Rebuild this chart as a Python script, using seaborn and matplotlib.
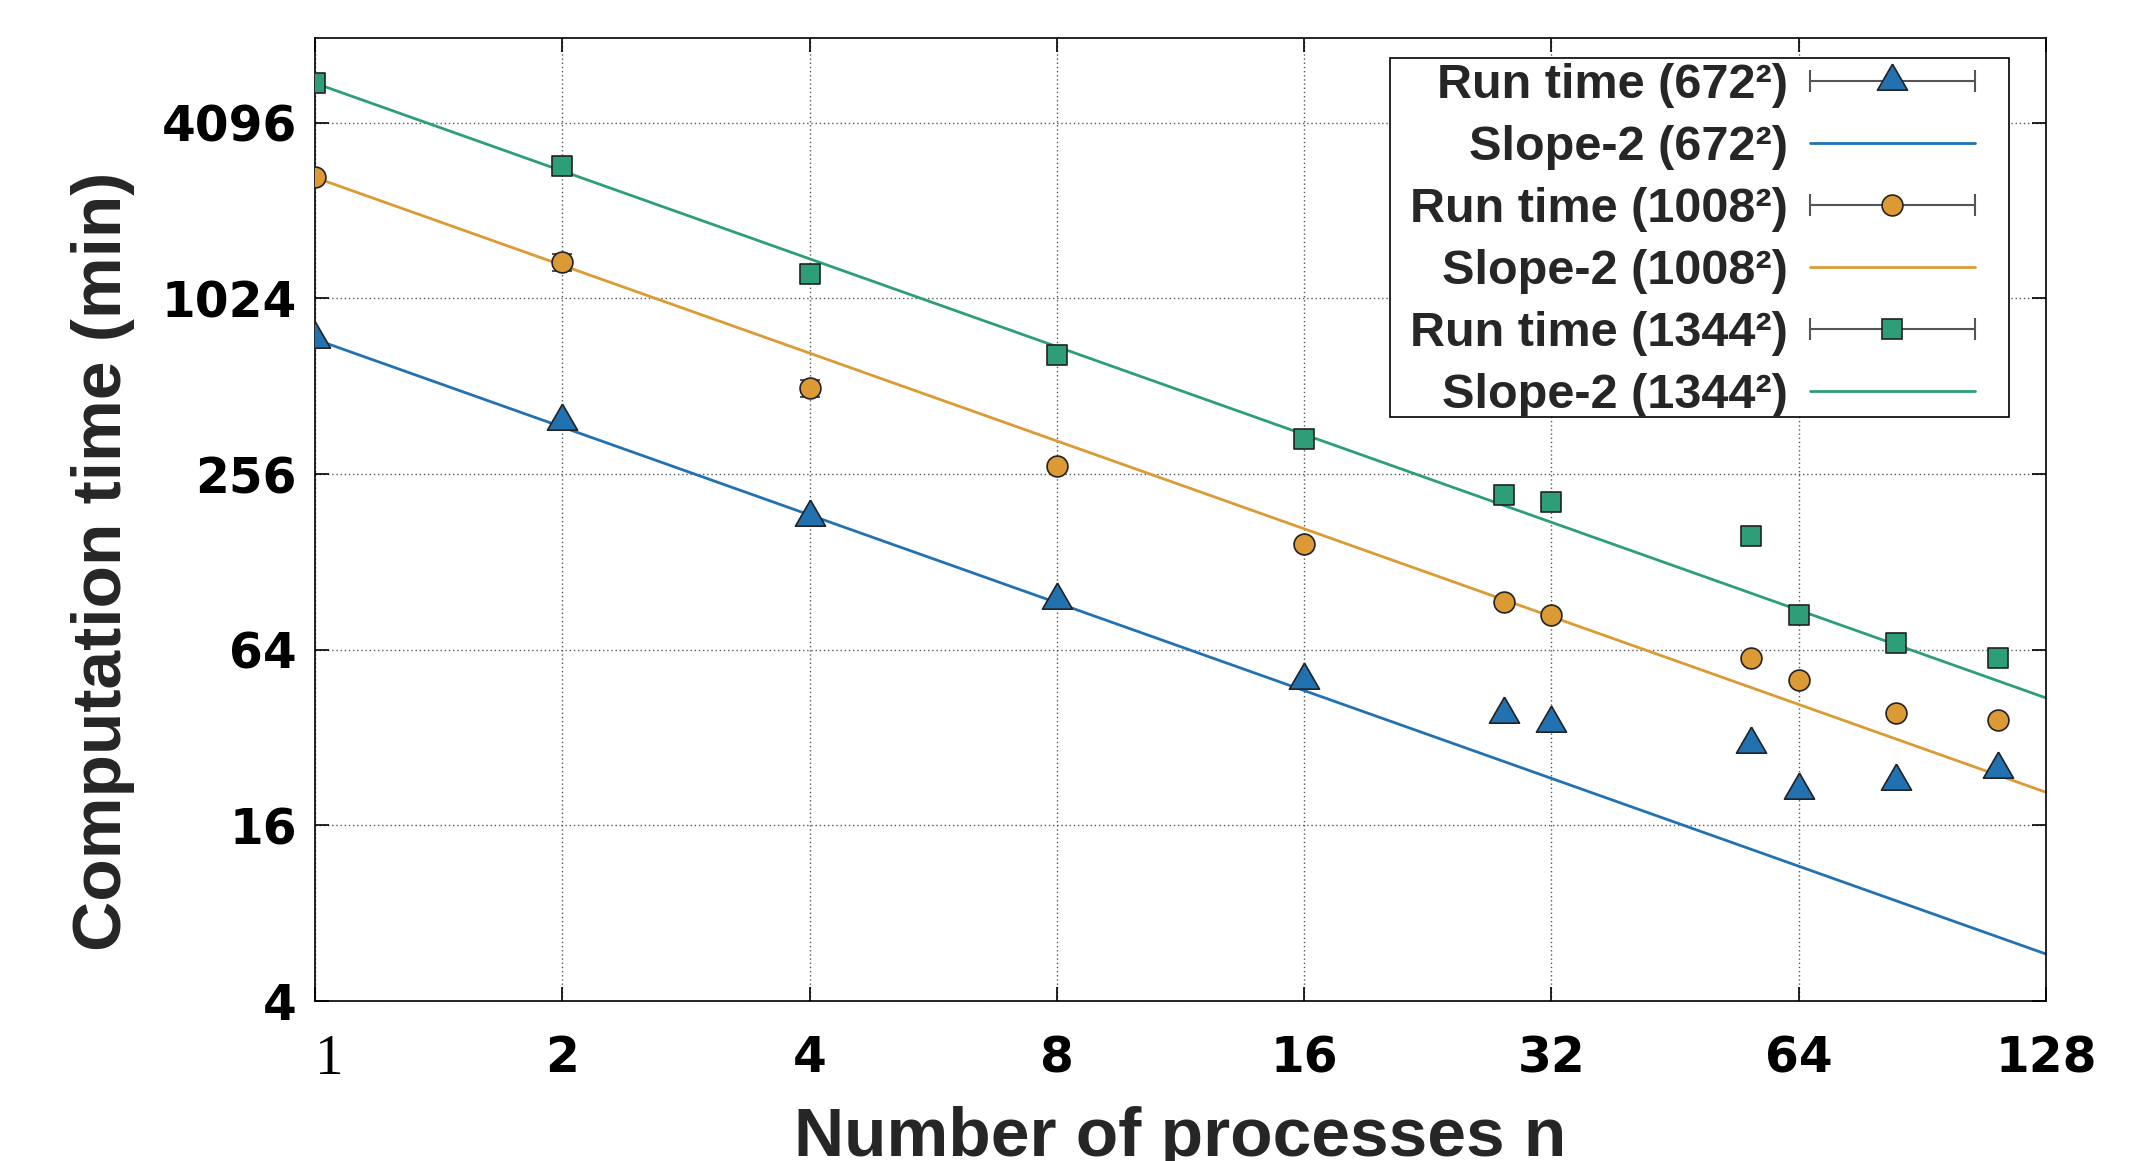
import numpy as np
import matplotlib
matplotlib.use("Agg")
import matplotlib.pyplot as plt
from matplotlib.lines import Line2D
from matplotlib.markers import MarkerStyle
from matplotlib.patches import Rectangle
from matplotlib.legend_handler import HandlerLine2D
import seaborn as sns

sns.set_style("ticks")
plt.rcParams["font.family"] = ["Liberation Sans", "DejaVu Sans"]

# ---------------- data ----------------
n_procs = [1, 2, 4, 8, 16, 28, 32, 56, 64, 84, 112]

time_672 = [742, 390, 182, 94.6, 50.5, 38.6, 36.0, 30.4, 21.1, 22.7, 24.9]
time_1008 = [2660, 1360, 505, 273, 148, 93.5, 84.0, 59.8, 50.3, 38.9, 36.8]
time_1344 = [5600, 2910, 1240, 656, 338, 217, 205, 157, 84.0, 67.5, 59.9]

err_672 = [0, 0, 0, 0, 0, 0, 0, 0, 0, 0, 0]
err_1008 = [0, 90, 35, 0, 0, 0, 0, 0, 0, 0, 0]
err_1344 = [0, 0, 0, 0, 0, 0, 0, 0, 0, 0, 0]

grid_sizes = ["672", "1008", "1344"]

x_ticks = [1, 2, 4, 8, 16, 32, 64, 128]
x_tick_labels = ["1", "2", "4", "8", "16", "32", "64", "128"]
y_ticks = [4, 16, 64, 256, 1024, 4096]
y_tick_labels = ["4", "16", "64", "256", "1024", "4096"]

# ---------------- style ----------------
colors = ["#2271b1", "#dc9a34", "#2e9e78"]
tri = MarkerStyle([(0, 1.155), (-1, -0.577), (1, -0.577), (0, 1.155)])
markers = [tri, "o", "s"]
msizes = [25, 15, 14.5]

fig = plt.figure(figsize=(21.5, 11.61), dpi=100)
ax = fig.add_axes([0.1465, 0.1378, 0.9516 - 0.1465, 0.9673 - 0.1378])
ax.set_xscale("log", base=2)
ax.set_yscale("log", base=2)

times = [time_672, time_1008, time_1344]
errs = [err_672, err_1008, err_1344]
n_line = np.array([1, 128])

for t, e, c, m, ms in zip(times, errs, colors, markers, msizes):
    # slope line from the single-process run time
    sns.lineplot(x=n_line, y=t[0] / n_line, color=c, lw=2, ax=ax, zorder=2)
    ax.errorbar(n_procs, t, yerr=e, fmt="none", ecolor="#333333",
                elinewidth=1.2, capsize=7, capthick=1.2, zorder=2.5)
    sns.scatterplot(x=n_procs, y=t, marker=m, s=ms ** 2, color=c,
                    edgecolor="#222222", linewidth=1.2, ax=ax, zorder=3)

ax.set_xlim(1, 128)
ax.set_ylim(4, 8000)
ax.set_xticks(x_ticks)
ax.set_xticklabels(x_tick_labels)
ax.set_yticks(y_ticks)
ax.set_yticklabels(y_tick_labels)
ax.minorticks_off()

ax.tick_params(axis="both", which="major", direction="in", length=10, width=1.2,
               top=True, right=True, colors="black")
ax.tick_params(axis="x", pad=24)
ax.tick_params(axis="y", pad=13)
for lab in ax.get_xticklabels() + ax.get_yticklabels():
    lab.set_fontfamily(["DejaVu Sans"])
    lab.set_fontweight("bold")
    lab.set_fontsize(35)
first = ax.xaxis.get_major_ticks()[0].label1
first.set_fontfamily(["Liberation Serif", "DejaVu Serif"])
first.set_fontweight("normal")
first.set_fontsize(41)
first.set_ha("left")

ax.grid(True, which="major", ls=(0, (1, 2)), color="#555555", lw=1.0)
for sp in ax.spines.values():
    sp.set_color("black")
    sp.set_linewidth(1.2)

ax.set_xlabel("Number of processes n", fontsize=50, fontweight="bold")
ax.xaxis.set_label_coords(0.5, -0.161)
ax.xaxis.label.set_va("baseline")
ax.set_ylabel("Computation time (min)", fontsize=50, fontweight="bold")
ax.yaxis.set_label_coords(-0.1225, 0.457)
ax.yaxis.label.set_va("center")

# ---------------- legend ----------------
handles, labels, hmap = [], [], {}
for size, c, m, ms in zip(grid_sizes, colors, markers, msizes):
    cap = Line2D([], [], color="#555555", lw=1.5, marker="|",
                 markersize=16, markeredgewidth=1.5)
    dot = Line2D([], [], ls="none", marker=m, markersize=ms,
                 markerfacecolor=c, markeredgecolor="#222222", markeredgewidth=1.2)
    hmap[cap] = HandlerLine2D(numpoints=2, marker_pad=0)
    handles.append((cap, dot))
    labels.append(f"Run time ({size}²)")
    handles.append(Line2D([], [], color=c, lw=2))
    labels.append(f"Slope-2 ({size}²)")

# box drawn separately: gnuplot keeps wider side margins than top/bottom
ax.add_patch(Rectangle((0.621, 0.6064), 0.3576, 0.3726, transform=ax.transAxes,
                       facecolor="white", edgecolor="black", lw=1.2, zorder=4.5))
leg = ax.legend(handles, labels, handler_map=hmap, markerfirst=False, numpoints=1,
                loc="upper right", bbox_to_anchor=(0.959, 0.974), borderaxespad=0,
                prop={"family": "Liberation Sans", "weight": "bold", "size": 35},
                handlelength=3.4, handletextpad=0.45, labelspacing=0.35,
                borderpad=0, frameon=False)
leg.set_zorder(5)

fig.savefig("out.png", dpi=100)
